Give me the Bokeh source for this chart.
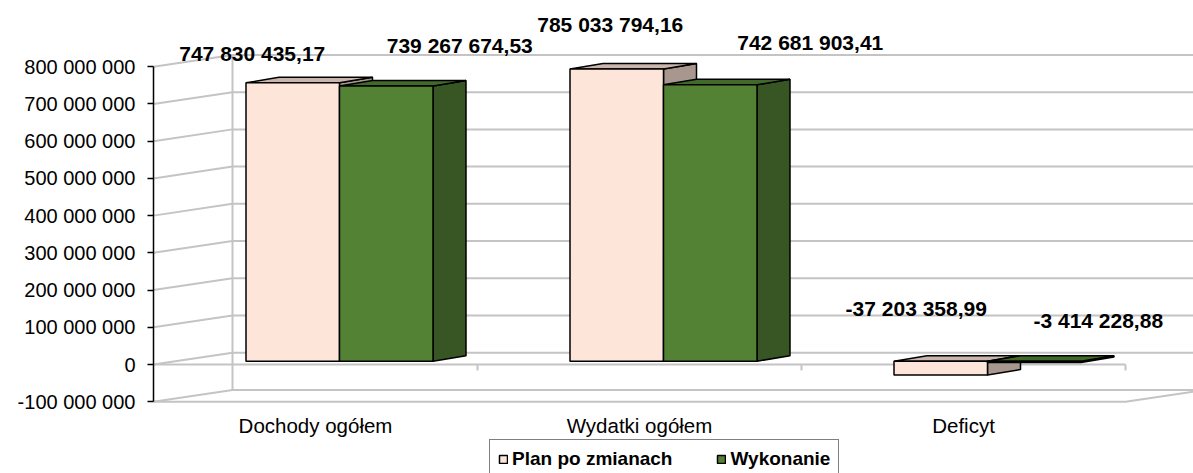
from bokeh.plotting import figure
from bokeh.models import FixedTicker, Legend, LegendItem
from bokeh.embed import file_html
from bokeh.resources import INLINE
from bokeh.core.properties import value

# ---------------- data ----------------
categories = ["Dochody ogółem", "Wydatki ogółem", "Deficyt"]
series_names = ["Plan po zmianach", "Wykonanie"]
plan_values = [747830435.17, 785033794.16, -37203358.99]
wykonanie_values = [739267674.53, 742681903.41, -3414228.88]
y_ticks = [-100000000, 0, 100000000, 200000000, 300000000, 400000000,
           500000000, 600000000, 700000000, 800000000]
y_tick_labels = ["-100 000 000", "0", "100 000 000", "200 000 000", "300 000 000",
                 "400 000 000", "500 000 000", "600 000 000", "700 000 000", "800 000 000"]

# ---------------- layout / style ----------------
PX_X = 324.0            # px per category
PX_Y = 0.3722e-6        # px per unit of value
FIG_W, FIG_H = 1193, 473
LEFT = 153
FRAME_W, FRAME_H = FIG_W - LEFT, FIG_H
ZERO_FROM_TOP = 364     # px from frame top to value 0 (front plane)
X_END = FRAME_W / PX_X
Y_END = ZERO_FROM_TOP / PX_Y
Y_START = -(FRAME_H - ZERO_FROM_TOP) / PX_Y

WALL_DX = 79 / PX_X     # depth of the chart box
WALL_DY = 11.8 / PX_Y
BAR_DX = 33 / PX_X      # depth of a bar
BAR_DY = 5.5 / PX_Y
BAR_W = 93.5 / PX_X
PAIR_SHIFT = 24 / PX_X
BASE = 3.3 / PX_Y       # bars stand slightly behind the front plane
TICK_LEN = 6 / PX_Y

FONT = "Liberation Sans"
GRID_COLOR = "#c4c4c4"
colors = [
    {"front": "#FDE5D9", "top": "#C9B5AB", "side": "#A8978F"},
    {"front": "#548235", "top": "#41692A", "side": "#375623"},
]
# label offsets in screen px (dx right, dy down) from the top-centre of each bar front
label_offsets = [
    [(-40.5, -29), (-6.5, -45), (-24.5, -53)],
    [(73.5, -41), (100, -42), (64, -41)],
]


def fmt(v):
    return f"{v:,.2f}".replace(",", " ").replace(".", ",")


p = figure(width=FIG_W, height=FIG_H, x_range=(0, X_END), y_range=(Y_START, Y_END),
           output_backend="svg", toolbar_location=None,
           min_border_left=LEFT, min_border_right=0, min_border_top=0, min_border_bottom=0)
p.outline_line_color = None
p.xgrid.visible = False
p.ygrid.visible = False
p.background_fill_color = "white"
p.border_fill_color = "white"

# ---------- walls / gridlines ----------
n = len(categories)
gx = [[0, WALL_DX, X_END] for _ in y_ticks]
gy = [[t, t + WALL_DY, t + WALL_DY] for t in y_ticks]
p.multi_line(gx, gy, line_color=GRID_COLOR, line_width=2)
# back corner
p.line([WALL_DX, WALL_DX], [y_ticks[0] + WALL_DY, y_ticks[-1] + WALL_DY],
       line_color=GRID_COLOR, line_width=2)
# floor front edge
p.line([0, n, n + WALL_DX], [y_ticks[0], y_ticks[0], y_ticks[0] + WALL_DY],
       line_color=GRID_COLOR, line_width=2)
# category axis line at zero with ticks at boundaries
p.line([0, n], [0, 0], line_color=GRID_COLOR, line_width=2)
p.segment(x0=list(range(1, n + 1)), y0=[0] * n, x1=list(range(1, n + 1)), y1=[-TICK_LEN] * n,
          line_color=GRID_COLOR, line_width=2)

# ---------- 3D bars ----------
front_renderers = []
for s, vals in enumerate([plan_values, wykonanie_values]):
    left = [i + 0.5 + PAIR_SHIFT - BAR_W + s * BAR_W for i in range(n)]
    right = [l + BAR_W for l in left]
    bottom = [BASE + min(v, 0) for v in vals]
    top = [BASE + max(v, 0) for v in vals]
    side_xs = [[r, r + BAR_DX, r + BAR_DX, r] for r in right]
    side_ys = [[b, b + BAR_DY, t + BAR_DY, t] for b, t in zip(bottom, top)]
    top_xs = [[l, r, r + BAR_DX, l + BAR_DX] for l, r in zip(left, right)]
    top_ys = [[t, t, t + BAR_DY, t + BAR_DY] for t in top]
    p.patches(side_xs, side_ys, fill_color=colors[s]["side"], line_color="black", line_width=1.5)
    p.patches(top_xs, top_ys, fill_color=colors[s]["top"], line_color="black", line_width=1.5)
    fr = p.quad(left=left, right=right, bottom=bottom, top=top,
                fill_color=colors[s]["front"], line_color="black", line_width=1.5)
    front_renderers.append(fr)

    lx = [(l + r) / 2 + off[0] / PX_X for l, r, off in zip(left, right, label_offsets[s])]
    ly = [t - off[1] / PX_Y for t, off in zip(top, label_offsets[s])]
    p.text(x=lx, y=ly, text=[fmt(v) for v in vals], text_font=value(FONT),
           text_font_style="bold", text_font_size="21px", text_color="black",
           text_align="center", text_baseline="middle")

# ---------- axes ----------
p.yaxis.ticker = FixedTicker(ticks=y_ticks)
p.yaxis.major_label_overrides = {t: lab for t, lab in zip(y_ticks, y_tick_labels)}
p.yaxis.bounds = (y_ticks[0], y_ticks[-1])
p.yaxis.axis_line_color = "black"
p.yaxis.axis_line_width = 1.5
p.yaxis.major_tick_out = 6
p.yaxis.major_tick_in = 0
p.yaxis.major_tick_line_color = "black"
p.yaxis.major_tick_line_width = 1.5
p.yaxis.minor_tick_line_color = None
p.yaxis.major_label_standoff = 12
p.yaxis.major_label_text_font = FONT
p.yaxis.major_label_text_font_size = "20px"
p.yaxis.major_label_text_color = "black"

cat_ticks = [i + 0.5 for i in range(n)]
p.xaxis.ticker = FixedTicker(ticks=cat_ticks)
p.xaxis.major_label_overrides = {t: c for t, c in zip(cat_ticks, categories)}
p.xaxis.fixed_location = -110000000
p.xaxis.axis_line_color = None
p.xaxis.major_tick_line_color = None
p.xaxis.minor_tick_line_color = None
p.xaxis.major_tick_out = 0
p.xaxis.major_tick_in = 0
p.xaxis.major_label_standoff = 9
p.xaxis.major_label_text_font = FONT
p.xaxis.major_label_text_font_size = "20.5px"
p.xaxis.major_label_text_color = "black"

# ---------- legend ----------
legend = Legend(items=[LegendItem(label=series_names[i], renderers=[front_renderers[i]])
                       for i in range(2)],
                location=(336, -6), orientation="horizontal",
                glyph_width=10, glyph_height=10, label_standoff=4, spacing=44,
                padding=8, margin=0,
                border_line_color="black", border_line_width=1,
                background_fill_color="white", background_fill_alpha=1,
                label_text_font=FONT, label_text_font_style="bold",
                label_text_font_size="19px", label_text_color="black")
p.add_layout(legend)

open("out.html", "w").write(file_html(p, INLINE))
